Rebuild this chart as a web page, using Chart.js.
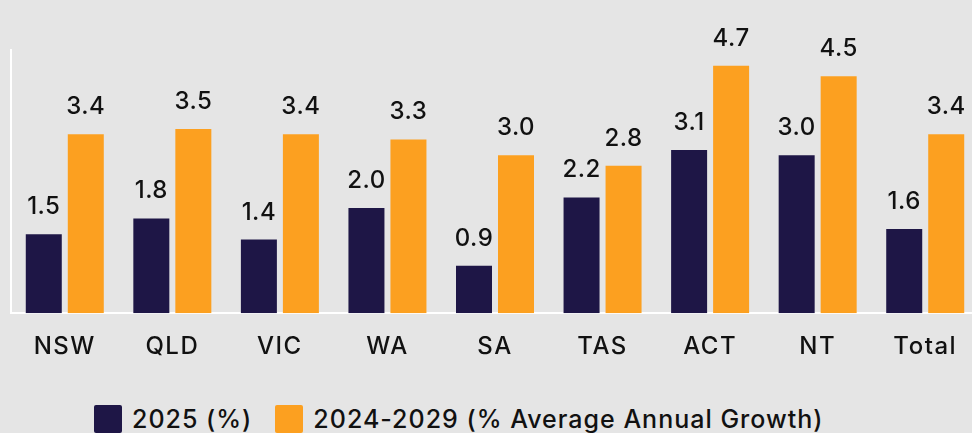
<!DOCTYPE html>
<html>
<head>
<meta charset="utf-8">
<script src="https://cdn.jsdelivr.net/npm/chart.js@4.4.1/dist/chart.umd.min.js"></script>
<style>
  html, body { margin: 0; padding: 0; background: #e5e5e5; overflow: hidden; width: 972px; height: 433px; }
  #wrap { position: absolute; left: 0; top: 0; width: 990px; height: 380px; }
  #legend { position: absolute; left: 94px; top: 404px; display: flex; align-items: center;
            font-family: Inter, "Noto Sans", sans-serif; font-size: 25px; letter-spacing: 1px; color: #111; font-weight: 500; }
  #legend .item { display: flex; align-items: center; margin-right: 23px; }
  #legend .box { width: 28px; height: 28px; border-radius: 2px; margin-right: 10px; }
</style>
</head>
<body>
<div id="wrap"><canvas id="growthChart"></canvas></div>
<div id="legend"></div>
<script>
const categories = ["NSW","QLD","VIC","WA","SA","TAS","ACT","NT","Total"];
const growth2025 = [1.5,1.8,1.4,2.0,0.9,2.2,3.1,3.0,1.6];
const avgGrowth = [3.4,3.5,3.4,3.3,3.0,2.8,4.7,4.5,3.4];
const seriesNames = ["2025 (%)","2024-2029 (% Average Annual Growth)"];
const seriesColors = ["#1e1646","#fca020"];

const FONT = "Inter, 'Noto Sans', sans-serif";

// a bit of tracking, the source font is wider
const spacing = {
    id: "spacing",
    beforeDraw(chart) { chart.ctx.letterSpacing = "1.5px"; }
};

// value labels above each bar
const valueLabels = {
    id: "valueLabels",
    afterDatasetsDraw(chart) {
        const ctx = chart.ctx;
        ctx.save();
        ctx.letterSpacing = "0.5px";
        ctx.font = "500 24px " + FONT;
        ctx.fillStyle = "#111";
        ctx.textAlign = "center";
        ctx.textBaseline = "alphabetic";
        chart.data.datasets.forEach((ds, i) => {
            chart.getDatasetMeta(i).data.forEach((bar, j) => {
                ctx.fillText(ds.data[j].toFixed(1), bar.x, bar.y - 20);
            });
        });
        ctx.restore();
    }
};

const growthChart = new Chart(
    document.getElementById("growthChart"),
    {
        type: "bar",
        data: {
            labels: categories,
            datasets: [
                {
                    label: seriesNames[0],
                    data: growth2025,
                    backgroundColor: seriesColors[0],
                    barPercentage: 0.857,
                    categoryPercentage: 0.781
                },
                {
                    label: seriesNames[1],
                    data: avgGrowth,
                    backgroundColor: seriesColors[1],
                    barPercentage: 0.857,
                    categoryPercentage: 0.781
                }
            ]
        },
        options: {
            responsive: true,
            maintainAspectRatio: false,
            animation: false,
            layout: { padding: { left: 11, right: 11, top: 50, bottom: 0 } },
            plugins: {
                legend: { display: false },
                tooltip: { enabled: false }
            },
            scales: {
                x: {
                    grid: { display: false, drawTicks: false },
                    border: { color: "#ffffff", width: 2 },
                    ticks: {
                        color: "#111",
                        padding: 19,
                        font: { family: FONT, size: 24, weight: 500 }
                    }
                },
                y: {
                    min: 0,
                    max: 5,
                    grid: { display: false, drawTicks: false },
                    border: { color: "#ffffff", width: 2 },
                    ticks: { display: false }
                }
            }
        },
        plugins: [spacing, valueLabels]
    }
);

const legendEl = document.getElementById("legend");
seriesNames.forEach((name, i) => {
    const item = document.createElement("div");
    item.className = "item";
    const box = document.createElement("div");
    box.className = "box";
    box.style.background = seriesColors[i];
    item.appendChild(box);
    item.appendChild(document.createTextNode(name));
    legendEl.appendChild(item);
});
</script>
</body>
</html>
